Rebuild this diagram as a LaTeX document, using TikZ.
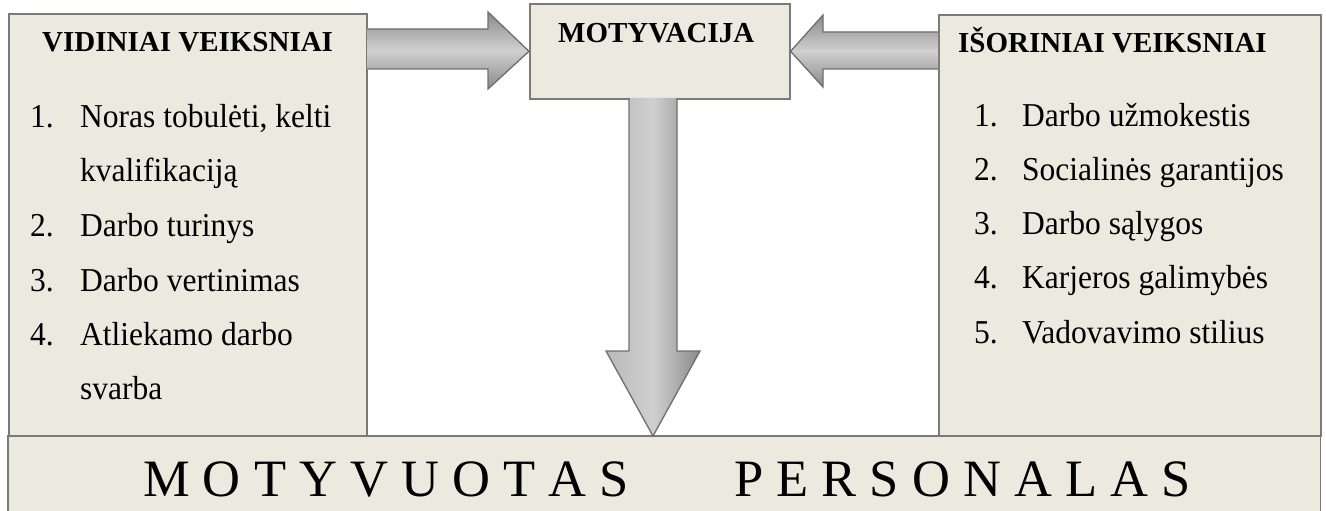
\documentclass[tikz,border=0pt]{standalone}
\usepackage{fontspec}
\setmainfont{Liberation Serif}
\usetikzlibrary{calc}
\definecolor{boxfill}{HTML}{ECE9DF}
\definecolor{boxline}{HTML}{7A7A7A}
\definecolor{arrline}{HTML}{6E6E6E}
\definecolor{arrdark}{HTML}{8A8A8A}
\definecolor{arrmid}{HTML}{B8B8B8}
\definecolor{arrlight}{HTML}{D0D0D0}
\begin{document}
\begin{tikzpicture}[x=1pt,y=-1pt,
  box/.style={draw=boxline, line width=1.6pt, fill=boxfill, inner sep=0, anchor=north west},
  headtxt/.style={font=\fontsize{29}{29}\selectfont\bfseries, anchor=base west, inner sep=0},
  itemtxt/.style={font=\fontsize{31.5}{31.5}\selectfont, anchor=base west, inner sep=0, yscale=1.06},
  bigtxt/.style={font=\fontsize{52.5}{52.5}\selectfont, anchor=base west, inner sep=0},
  arr/.style={draw=arrline, line width=1.3pt, line join=miter}]
\useasboundingbox (0,0) rectangle (1326,511);

% bottom box
\node[fill=boxfill, inner sep=0, anchor=north west, minimum width=1312pt, minimum height=80pt] (bot) at (8,436) {};
\draw[boxline, line width=1.6pt] (bot.south west) -- (bot.north west) -- (bot.north east) -- (bot.south east);

% boxes
\node[box, minimum width=358pt, minimum height=422pt] (left) at (8,13) {};
\node[box, minimum width=382pt, minimum height=421pt] (right) at (938,14) {};
\node[box, minimum width=260pt, minimum height=95pt] (mot) at (529,3) {};

% arrows
\coordinate (tipL) at (mot.west);
\coordinate (tipR) at (mot.east);
\coordinate (tipD) at (653,436);
\draw[arr, top color=arrdark, bottom color=arrdark, middle color=arrlight]
  (left.east |- 0,29) -- (488,29) -- (488,12) -- (tipL) -- (488,89) -- (488,69) -- (left.east |- 0,69);
\draw[arr, top color=arrdark, bottom color=arrdark, middle color=arrlight]
  (right.west |- 0,32) -- (823,32) -- (823,15) -- (tipR) -- (823,87) -- (823,69) -- (right.west |- 0,69);
\draw[arr, left color=arrmid, right color=arrdark, middle color=arrlight]
  (629,98) -- (629,351) -- (606,351) -- (tipD) -- (700,351) -- (677,351) -- (677,98);

% headings
\node[headtxt] (hl) at (42,52) {VIDINIAI VEIKSNIAI};
\node[headtxt] (hm) at (558,43) {MOTYVACIJA};
\node[headtxt] (hr) at (958,53) {IŠORINIAI VEIKSNIAI};

% left list
\node[itemtxt] (ln1) at (30,127) {1.};
\node[itemtxt] (lt1) at (80,127) {Noras tobulėti, kelti};
\node[itemtxt] (lt1b) at (80,181) {kvalifikaciją};
\node[itemtxt] (ln2) at (30,236) {2.};
\node[itemtxt] (lt2) at (80,236) {Darbo turinys};
\node[itemtxt] (ln3) at (30,291) {3.};
\node[itemtxt] (lt3) at (80,291) {Darbo vertinimas};
\node[itemtxt] (ln4) at (30,345) {4.};
\node[itemtxt] (lt4) at (80,345) {Atliekamo darbo};
\node[itemtxt] (lt4b) at (80,399) {svarba};

% right list
\node[itemtxt] (rn1) at (974,126) {1.};
\node[itemtxt] (rt1) at (1022,126) {Darbo užmokestis};
\node[itemtxt] (rn2) at (974,180) {2.};
\node[itemtxt] (rt2) at (1022,180) {Socialinės garantijos};
\node[itemtxt] (rn3) at (974,234) {3.};
\node[itemtxt] (rt3) at (1022,234) {Darbo sąlygos};
\node[itemtxt] (rn4) at (974,288) {4.};
\node[itemtxt] (rt4) at (1022,288) {Karjeros galimybės};
\node[itemtxt] (rn5) at (974,343) {5.};
\node[itemtxt] (rt5) at (1022,343) {Vadovavimo stilius};

% bottom text
\node[bigtxt] (b1) at (143,496) {M O T Y V U O T A S};
\node[bigtxt] (b2) at (734,496) {P E R S O N A L A S};
\end{tikzpicture}
\end{document}
